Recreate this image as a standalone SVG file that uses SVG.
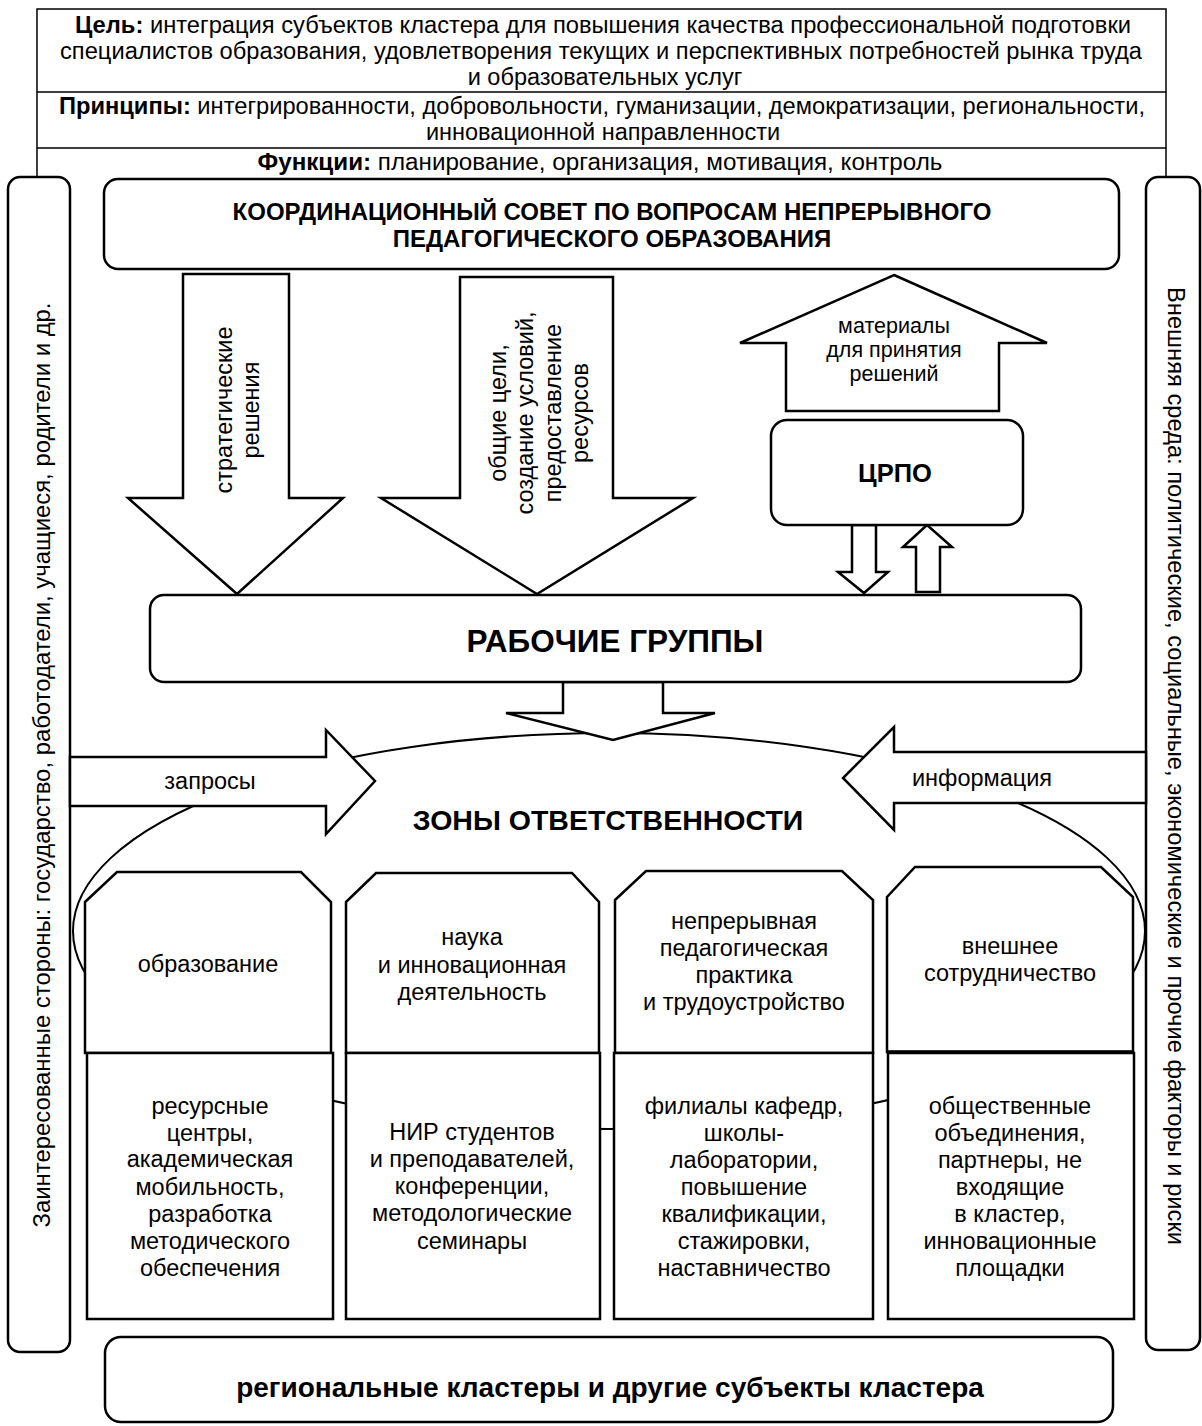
<svg xmlns="http://www.w3.org/2000/svg" width="1202" height="1426" viewBox="0 0 1202 1426">
<style>
.bg{fill:#fff}
.s{fill:#fff;stroke:#000;stroke-width:2.5;stroke-linejoin:miter}
.thin{fill:none;stroke:#000;stroke-width:1.5}
.t{font-family:"Liberation Sans",Arial,sans-serif;font-size:23.5px;fill:#000;text-anchor:middle}
.b{font-weight:bold}
</style>
<rect class="bg" x="0" y="0" width="1202" height="1426"/>

<g id="header">
  <path class="thin" d="M37,177 V9 H1166 V177 M37,92 H1166 M37,148 H1166"/>
  <text class="t" x="603" y="33" textLength="1056" lengthAdjust="spacingAndGlyphs"><tspan class="b">Цель:</tspan> интеграция субъектов кластера для повышения качества профессиональной подготовки</text>
  <text class="t" x="601" y="59" textLength="1082" lengthAdjust="spacingAndGlyphs">специалистов образования, удовлетворения текущих и перспективных потребностей рынка труда</text>
  <text class="t" x="605" y="85">и образовательных услуг</text>
  <text class="t" x="602" y="114" textLength="1086" lengthAdjust="spacingAndGlyphs"><tspan class="b">Принципы:</tspan> интегрированности, добровольности, гуманизации, демократизации, региональности,</text>
  <text class="t" x="603" y="140">инновационной направленности</text>
  <text class="t" x="600" y="170" textLength="685" lengthAdjust="spacingAndGlyphs"><tspan class="b">Функции:</tspan> планирование, организация, мотивация, контроль</text>
</g>

<g id="stakeholders">
  <rect class="s" x="8" y="177" width="62" height="1175" rx="12" stroke-width="2"/>
  <text class="t" transform="translate(50,765) rotate(-90)" x="0" y="0" style="font-size:23px" textLength="925" lengthAdjust="spacingAndGlyphs">Заинтересованные стороны: государство, работодатели, учащиеся, родители и др.</text>
</g>

<g id="environment">
  <rect class="s" x="1146" y="177" width="54" height="1173" rx="12" stroke-width="2"/>
  <text class="t" transform="translate(1168,766) rotate(90)" x="0" y="0" style="font-size:23px" textLength="958" lengthAdjust="spacingAndGlyphs">Внешняя среда: политические, социальные, экономические и прочие факторы и риски</text>
</g>

<g id="council">
  <rect class="s" x="104" y="179" width="1015" height="90" rx="14"/>
  <text class="t b" x="612" y="220" style="font-size:24px">КООРДИНАЦИОННЫЙ СОВЕТ ПО ВОПРОСАМ НЕПРЕРЫВНОГО</text>
  <text class="t b" x="612" y="247" style="font-size:24px">ПЕДАГОГИЧЕСКОГО ОБРАЗОВАНИЯ</text>
</g>

<g id="zones-ellipse">
  <ellipse cx="609" cy="931" rx="536" ry="198" fill="#fff" stroke="#000" stroke-width="2"/>
  <text class="t b" x="608" y="830" style="font-size:28.5px">ЗОНЫ ОТВЕТСТВЕННОСТИ</text>
</g>

<g id="connectors">
  <g id="arrow-strategic">
    <polygon class="s" points="183,274 289,274 289,498 343,498 237,594 128,498 183,498"/>
    <text class="t" transform="translate(237,410) rotate(-90)"><tspan x="0" y="-5">стратегические</tspan><tspan x="0" y="22">решения</tspan></text>
  </g>
  <g id="arrow-goals">
    <polygon class="s" points="460,277 613,277 613,498 693,498 537,594 381,498 460,498"/>
    <text class="t" transform="translate(537,413) rotate(-90)"><tspan x="0" y="-31">общие цели,</tspan><tspan x="0" y="-4">создание условий,</tspan><tspan x="0" y="24">предоставление</tspan><tspan x="0" y="51">ресурсов</tspan></text>
  </g>
  <g id="arrow-materials">
    <polygon class="s" points="894,275 1047,343 999,343 999,411 786,411 786,343 740,343"/>
    <text class="t" x="894" y="333" style="font-size:21.5px">материалы</text>
    <text class="t" x="894" y="357" style="font-size:21.5px">для принятия</text>
    <text class="t" x="894" y="381" style="font-size:21.5px">решений</text>
  </g>
  <polygon id="arrow-crpo-down" class="s" points="852,525 876,525 876,572 888,572 864,593 838,572 852,572"/>
  <polygon id="arrow-crpo-up" class="s" points="927,525 952,547 940,547 940,592 916,592 916,547 903,547"/>
  <polygon id="arrow-to-zones" class="s" points="563,682 663,682 663,713 715,713 613,740 506,713 563,713"/>
  <g id="arrow-requests">
    <polygon class="s" points="70,757 326,757 326,730 375,781 326,834 326,806 70,806"/>
    <text class="t" x="210" y="789">запросы</text>
  </g>
  <g id="arrow-information">
    <polygon class="s" points="1146,752 894,752 894,727 843,778 894,830 894,803 1146,803"/>
    <text class="t" x="982" y="786">информация</text>
  </g>
</g>

<g id="crpo">
  <rect class="s" x="771" y="420" width="252" height="105" rx="16"/>
  <text class="t b" x="895" y="482" style="font-size:25.5px">ЦРПО</text>
</g>

<g id="working-groups">
  <rect class="s" x="150" y="595" width="931" height="87" rx="14"/>
  <text class="t b" x="615" y="652" style="font-size:31.5px">РАБОЧИЕ ГРУППЫ</text>
</g>

<g id="zone-education">
  <polygon class="s" points="85,902 117,872 301,872 331,902 331,1053 85,1053"/>
  <rect class="s" x="87" y="1053" width="246" height="266" stroke-width="2"/>
  <text class="t" x="208" y="972">образование</text>
  <text class="t"><tspan x="210" y="1114">ресурсные</tspan><tspan x="210" y="1141">центры,</tspan><tspan x="210" y="1167">академическая</tspan><tspan x="210" y="1195">мобильность,</tspan><tspan x="210" y="1222">разработка</tspan><tspan x="210" y="1249">методического</tspan><tspan x="210" y="1276">обеспечения</tspan></text>
</g>

<g id="zone-science">
  <polygon class="s" points="346,902 376,873 572,873 599,902 599,1053 346,1053"/>
  <rect class="s" x="346" y="1053" width="254" height="266" stroke-width="2"/>
  <text class="t"><tspan x="472" y="945">наука</tspan><tspan x="472" y="973">и инновационная</tspan><tspan x="472" y="1000">деятельность</tspan></text>
  <text class="t"><tspan x="472" y="1140">НИР студентов</tspan><tspan x="472" y="1167">и преподавателей,</tspan><tspan x="472" y="1194">конференции,</tspan><tspan x="472" y="1221">методологические</tspan><tspan x="472" y="1249">семинары</tspan></text>
</g>

<g id="zone-practice">
  <polygon class="s" points="615,900 646,871 842,871 873,900 873,1053 615,1053"/>
  <rect class="s" x="614" y="1053" width="259" height="266" stroke-width="2"/>
  <text class="t"><tspan x="744" y="929">непрерывная</tspan><tspan x="744" y="956">педагогическая</tspan><tspan x="744" y="983">практика</tspan><tspan x="744" y="1010">и трудоустройство</tspan></text>
  <text class="t"><tspan x="744" y="1114">филиалы кафедр,</tspan><tspan x="744" y="1141">школы-</tspan><tspan x="744" y="1168">лаборатории,</tspan><tspan x="744" y="1195">повышение</tspan><tspan x="744" y="1222">квалификации,</tspan><tspan x="744" y="1249">стажировки,</tspan><tspan x="744" y="1276">наставничество</tspan></text>
</g>

<g id="zone-cooperation">
  <polygon class="s" points="887,897 915,867 1101,867 1133,897 1133,1052 887,1052"/>
  <rect class="s" x="888" y="1053" width="246" height="266" stroke-width="2"/>
  <line x1="887" y1="1052" x2="1134" y2="1052" stroke="#000" stroke-width="3.5"/>
  <text class="t"><tspan x="1010" y="954">внешнее</tspan><tspan x="1010" y="981">сотрудничество</tspan></text>
  <text class="t"><tspan x="1010" y="1114">общественные</tspan><tspan x="1010" y="1141">объединения,</tspan><tspan x="1010" y="1168">партнеры, не</tspan><tspan x="1010" y="1195">входящие</tspan><tspan x="1010" y="1222">в кластер,</tspan><tspan x="1010" y="1249">инновационные</tspan><tspan x="1010" y="1276">площадки</tspan></text>
</g>

<g id="regional-clusters">
  <rect class="s" x="105" y="1337" width="1008" height="85" rx="16" stroke-width="2"/>
  <text class="t b" x="610" y="1397" style="font-size:28px">региональные кластеры и другие субъекты кластера</text>
</g>
</svg>
